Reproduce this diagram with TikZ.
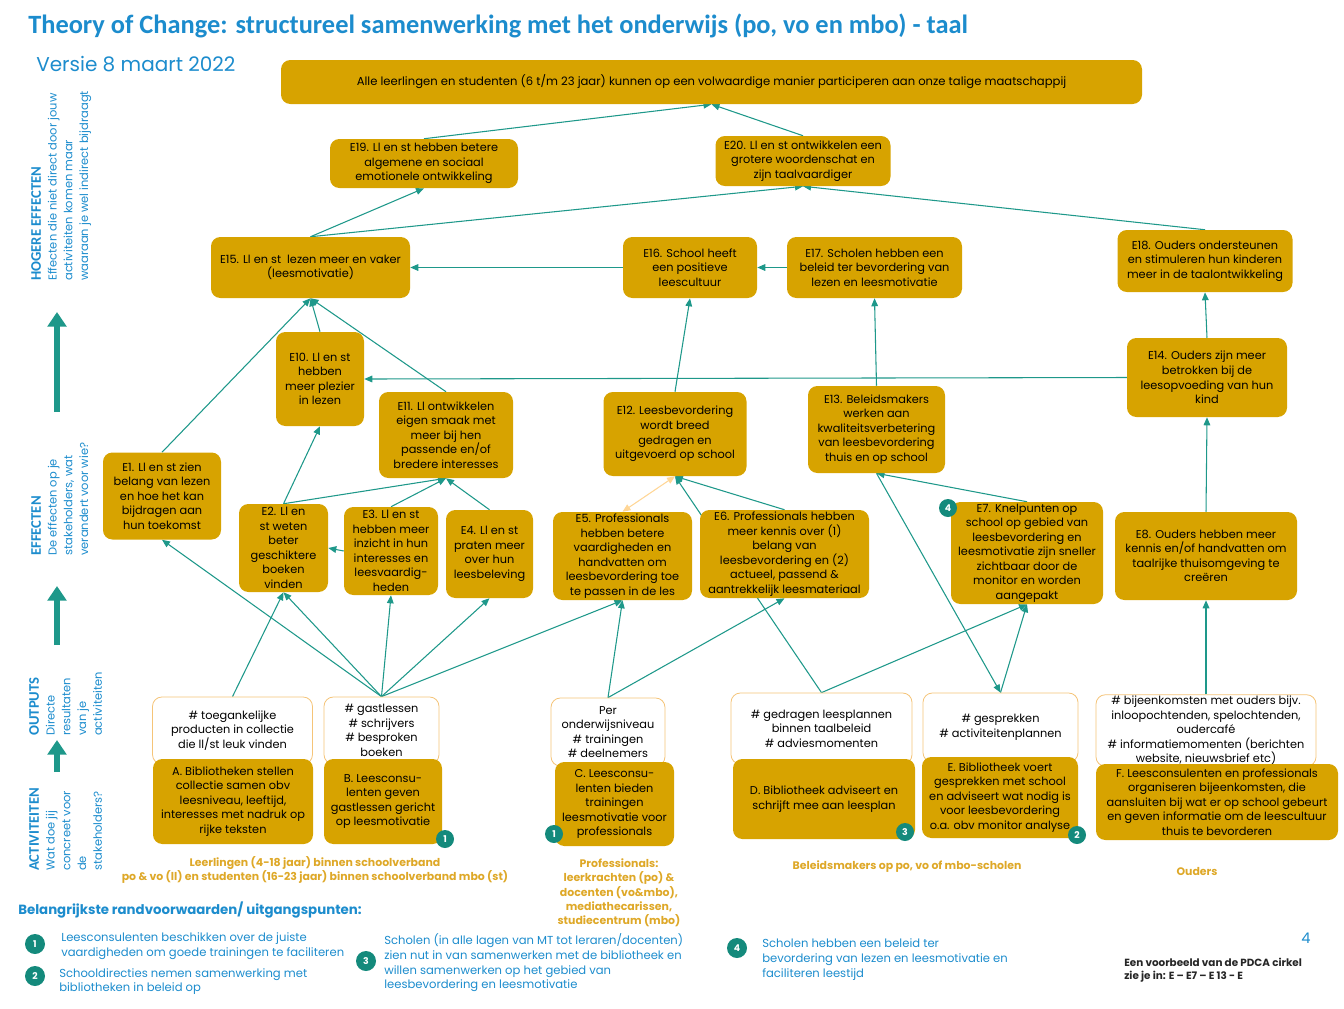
\documentclass[tikz,border=0pt]{standalone}
\usepackage{fontspec}
\setmainfont{Poppins}
\newfontfamily\titelfont{Carlito}
\usetikzlibrary{arrows.meta,backgrounds}
\definecolor{goud}{RGB}{215,163,0}
\definecolor{tocteal}{RGB}{30,152,138}
\definecolor{donkerteal}{RGB}{20,138,124}
\definecolor{tocblauw}{RGB}{28,140,205}
\definecolor{tocoranje}{RGB}{222,168,40}
\definecolor{randoranje}{RGB}{245,196,120}
\definecolor{lichtoranje}{RGB}{255,214,150}
\begin{document}
\begin{tikzpicture}[x=0.75pt,y=-0.75pt,
  effect/.style={fill=goud,rounded corners=7pt,align=center,inner sep=1pt,font=\fontsize{8.5}{10.9}\selectfont},
  output/.style={draw=randoranje,fill=white,line width=0.6pt,rounded corners=7pt,align=center,inner sep=1pt,font=\fontsize{8.5}{10.9}\selectfont},
  pijl/.style={draw=tocteal,line width=0.8pt,-{Triangle[length=6pt,width=5pt]}},
  nummer/.style={circle,fill=donkerteal,text=white,inner sep=0pt,minimum size=13.5pt,font=\bfseries\fontsize{7}{7}\selectfont},
  groep/.style={text=tocoranje,align=center,font=\bfseries\fontsize{8.2}{10.7}\selectfont},
  zij/.style={rotate=90,anchor=north west,align=left,text=tocblauw,inner sep=0pt,font=\fontsize{8.6}{11.8}\selectfont},
  punt/.style={anchor=west,align=left,text=tocblauw,inner sep=0pt,font=\fontsize{8.7}{11}\selectfont},
  groot/.style={draw=tocteal,line width=4.5pt,-{Triangle[length=11pt,width=14pt]}}]
\useasboundingbox (0,0) rectangle (1344,1008);

\node[anchor=west,text=tocblauw,inner sep=0pt,font=\titelfont\bfseries\fontsize{19.8}{22}\selectfont] (titel) at (28,26) {Theory of Change: structureel samenwerking met het onderwijs (po, vo en mbo) - taal};
\node[anchor=west,text=tocblauw,inner sep=0pt,font=\fontsize{15}{17}\selectfont] (versie) at (36,64) {Versie 8 maart 2022};

\node[zij] (hoger) at (31,281) {{\titelfont\bfseries\fontsize{11}{11.8}\selectfont HOGERE EFFECTEN}\\Effecten die niet direct door jouw\\activiteiten komen maar\\waaraan je wel indirect bijdraagt};
\node[zij] (effect) at (31,556) {{\titelfont\bfseries\fontsize{11}{11.8}\selectfont EFFECTEN}\\De effecten op je\\stakeholders, wat\\verandert voor wie?};
\node[zij] (outp) at (29,736) {{\titelfont\bfseries\fontsize{11}{11.8}\selectfont OUTPUTS}\\Directe\\resultaten\\van je\\activiteiten};
\node[zij] (activ) at (29,871) {{\titelfont\bfseries\fontsize{11}{11.8}\selectfont ACTIVITEITEN}\\Wat doe jij\\concreet voor\\de\\stakeholders?};
\coordinate (h1) at (57,412);
\coordinate (h2) at (57,312);
\coordinate (h3) at (57,645);
\coordinate (h4) at (57,586);
\coordinate (h5) at (57,772);
\coordinate (h6) at (57,740);
\draw[groot] (h1) -- (h2);
\draw[groot] (h3) -- (h4);
\draw[groot] (h5) -- (h6);

\node[effect,minimum width=645.75pt,minimum height=33pt,font=\fontsize{8.7}{10.9}\selectfont] (doel) at (711.5,82) {Alle leerlingen en studenten (6 t/m 23 jaar) kunnen op een volwaardige manier participeren aan onze talige maatschappij};
\node[effect,minimum width=141pt,minimum height=36.75pt] (E19) at (424,163.5) {E19. Ll en st hebben betere\\algemene en sociaal\\emotionele ontwikkeling};
\node[effect,minimum width=131.25pt,minimum height=37.5pt] (E20) at (803,161) {E20. Ll en st ontwikkelen een\\grotere woordenschat en\\zijn taalvaardiger};
\node[effect,minimum width=149.25pt,minimum height=45.75pt] (E15) at (310.5,267.5) {E15. Ll en st\ \ lezen meer en vaker\\(leesmotivatie)};
\node[effect,minimum width=100.5pt,minimum height=45.75pt] (E16) at (690,267.5) {E16. School heeft\\een positieve\\leescultuur};
\node[effect,minimum width=131.25pt,minimum height=45.75pt] (E17) at (874.5,267.5) {E17. Scholen hebben een\\beleid ter bevordering van\\lezen en leesmotivatie};
\node[effect,minimum width=131.25pt,minimum height=46.5pt] (E18) at (1205,261) {E18. Ouders ondersteunen\\en stimuleren hun kinderen\\meer in de taalontwikkeling};
\node[effect,minimum width=66pt,minimum height=70.5pt] (E10) at (320,379) {E10. Ll en st\\hebben\\meer plezier\\in lezen};
\node[effect,minimum width=100.5pt,minimum height=64.5pt] (E11) at (446,435) {E11. Ll ontwikkelen\\eigen smaak met\\meer bij hen\\passende en/of\\bredere interesses};
\node[effect,minimum width=107.25pt,minimum height=63pt] (E12) at (675,434) {E12. Leesbevordering\\wordt breed\\gedragen en\\uitgevoerd op school};
\node[effect,minimum width=102.75pt,minimum height=65.25pt] (E13) at (876.5,429.5) {E13. Beleidsmakers\\werken aan\\kwaliteitsverbetering\\van leesbevordering\\thuis en op school};
\node[effect,minimum width=120pt,minimum height=59.25pt] (E14) at (1207,377.5) {E14. Ouders zijn meer\\betrokken bij de\\leesopvoeding van hun\\kind};
\node[effect,minimum width=88.5pt,minimum height=65.25pt] (E1) at (162,496) {E1. Ll en st zien\\belang van lezen\\en hoe het kan\\bijdragen aan\\hun toekomst};
\node[effect,minimum width=66.75pt,minimum height=66pt] (E2) at (283.5,548) {E2. Ll en\\st weten\\beter\\geschiktere\\boeken\\vinden};
\node[effect,minimum width=70.5pt,minimum height=66pt] (E3) at (391,551) {E3. Ll en st\\hebben meer\\inzicht in hun\\interesses en\\leesvaardig-\\heden};
\node[effect,minimum width=65.25pt,minimum height=66pt] (E4) at (489.5,554) {E4. Ll en st\\praten meer\\over hun\\leesbeleving};
\node[effect,minimum width=104.25pt,minimum height=66pt] (E5) at (622.5,556) {E5. Professionals\\hebben betere\\vaardigheden en\\handvatten om\\leesbevordering toe\\te passen in de les};
\node[effect,minimum width=126.75pt,minimum height=66pt] (E6) at (784.5,554) {E6. Professionals hebben\\meer kennis over (1)\\belang van\\leesbevordering en (2)\\actueel, passend \&\\aantrekkelijk leesmateriaal};
\node[effect,minimum width=114pt,minimum height=76.5pt] (E7) at (1027,553) {E7. Knelpunten op\\school op gebied van\\leesbevordering en\\leesmotivatie zijn sneller\\zichtbaar door de\\monitor en worden\\aangepakt};
\node[effect,minimum width=136.5pt,minimum height=66pt] (E8) at (1206,556) {E8. Ouders hebben meer\\kennis en/of handvatten om\\taalrijke thuisomgeving te\\creëren};

\node[output,minimum width=120pt,minimum height=50.25pt] (oA) at (232.5,730.5) {\# toegankelijke\\producten in collectie\\die ll/st leuk vinden};
\node[output,minimum width=86.25pt,minimum height=50.25pt] (oB) at (381.5,730.5) {\# gastlessen\\\# schrijvers\\\# besproken\\boeken};
\node[output,minimum width=85.5pt,minimum height=51pt] (oC) at (608,732) {Per\\onderwijsniveau\\\# trainingen\\\# deelnemers};
\node[output,minimum width=135.75pt,minimum height=53.25pt] (oD) at (821.5,728.5) {\# gedragen leesplannen\\binnen taalbeleid\\\# adviesmomenten};
\node[output,minimum width=116.25pt,minimum height=51.75pt] (oE) at (1000.5,727.5) {\# gesprekken\\\# activiteitenplannen};
\node[output,minimum width=165pt,minimum height=53.25pt] (oF) at (1206,730.5) {\# bijeenkomsten met ouders bijv.\\inloopochtenden, spelochtenden,\\oudercafé\\\# informatiemomenten (berichten\\website, nieuwsbrief etc)};

\node[effect,minimum width=120pt,minimum height=63.75pt] (aA) at (233,801.5) {A. Bibliotheken stellen\\collectie samen obv\\leesniveau, leeftijd,\\interesses met nadruk op\\rijke teksten};
\node[effect,minimum width=88.5pt,minimum height=63.75pt] (aB) at (383,801.5) {B. Leesconsu-\\lenten geven\\gastlessen gericht\\op leesmotivatie};
\node[effect,minimum width=89.25pt,minimum height=63pt] (aC) at (614.5,804) {C. Leesconsu-\\lenten bieden\\trainingen\\leesmotivatie voor\\professionals};
\node[effect,minimum width=136.5pt,minimum height=60pt] (aD) at (824,799) {D. Bibliotheek adviseert en\\schrijft mee aan leesplan};
\node[effect,minimum width=117pt,minimum height=60.75pt] (aE) at (1000,797.5) {E. Bibliotheek voert\\gesprekken met school\\en adviseert wat nodig is\\voor leesbevordering\\o.a. obv monitor analyse};
\node[effect,minimum width=181.5pt,minimum height=57pt] (aF) at (1217,802) {F. Leesconsulenten en professionals\\organiseren bijeenkomsten, die\\aansluiten bij wat er op school gebeurt\\en geven informatie om de leescultuur\\thuis te bevorderen};

\node[nummer] (n1b) at (445,839) {1};
\node[nummer] (n1c) at (554,834) {1};
\node[nummer] (n3d) at (905,832) {3};
\node[nummer] (n2e) at (1077,835) {2};
\node[nummer] (n4e) at (948,508) {4};

\node[groep] (leerl) at (315,870) {Leerlingen (4-18 jaar) binnen schoolverband\\po \& vo (ll) en studenten (16-23 jaar) binnen schoolverband mbo (st)};
\node[groep] (prof) at (619,893) {Professionals:\\leerkrachten (po) \&\\docenten (vo\&mbo),\\mediathecarissen,\\studiecentrum (mbo)};
\node[groep] (beleid) at (907,867) {Beleidsmakers op po, vo of mbo-scholen};
\node[groep] (ouders) at (1197,871) {Ouders};

\node[anchor=west,text=tocblauw,inner sep=0pt,font=\bfseries\fontsize{10}{12}\selectfont] (rand) at (18,910) {Belangrijkste randvoorwaarden/ uitgangspunten:};
\node[nummer,minimum size=15pt] (r1) at (35,944) {1};
\node[punt] (p1) at (61,946) {Leesconsulenten beschikken over de juiste\\vaardigheden om goede trainingen te faciliteren};
\node[nummer,minimum size=15pt] (r2) at (35,976) {2};
\node[punt] (p2) at (59,981.5) {Schooldirecties nemen samenwerking met\\bibliotheken in beleid op};
\node[nummer,minimum size=15pt] (r3) at (366,961) {3};
\node[punt] (p3) at (384,963) {Scholen (in alle lagen van MT tot leraren/docenten)\\zien nut in van samenwerken met de bibliotheek en\\willen samenwerken op het gebied van\\leesbevordering en leesmotivatie};
\node[nummer,minimum size=15pt] (r4) at (737,948) {4};
\node[punt] (p4) at (762,959.5) {Scholen hebben een beleid ter\\bevordering van lezen en leesmotivatie en\\faciliteren leestijd};
\node[text=tocblauw,inner sep=0pt,font=\fontsize{11}{12}\selectfont] (pagina) at (1306,938) {4};
\node[anchor=west,align=left,inner sep=0pt,text=black!85,font=\bfseries\fontsize{7.8}{9.8}\selectfont] (pdca) at (1124,970) {Een voorbeeld van de PDCA cirkel\\zie je in: E – E7 – E 13 - E};

\begin{scope}[on background layer]
\draw[pijl] (E19.north) -- (doel.south);
\draw[pijl] (E20.north) -- (doel.south);
\draw[pijl] (E15.north) -- (E19.south);
\draw[pijl] (E15.north) -- (E20.south);
\draw[pijl] (E18.north) -- (E20.south);
\draw[pijl] (E16.west) -- (E15.east);
\draw[pijl] (E17.west) -- (E16.east);
\draw[pijl] (E10.north) -- (E15.south);
\draw[pijl] (E11.north) -- (E15.south);
\draw[pijl] (E1.north) -- (E15.south);
\draw[pijl] (E14.west) -- (E10.east);
\draw[pijl] (E12.north) -- (E16.south);
\draw[pijl] (E13.north) -- (E17.south);
\draw[pijl] (E14.north) -- (E18.south);
\draw[pijl] (E2.north) -- (E10.south);
\draw[pijl] (E2.north) -- (E11.south);
\draw[pijl] (E3.north) -- (E11.south);
\draw[pijl] (E4.north) -- (E11.south);
\draw[pijl] (E3.west) -- (E2.east);
\draw[pijl] (E6.north) -- (E12.south);
\draw[lichtoranje,line width=0.8pt,{Triangle[length=6pt,width=5pt]}-{Triangle[length=6pt,width=5pt]}] (E5.north) -- (E12.south);
\draw[pijl] (E7.north) -- (E13.south);
\draw[pijl] (E13.south) -- (oE.north);
\draw[pijl] (E8.north) -- (E14.south);
\draw[pijl] (oA.north) -- (E2.south);
\draw[pijl] (oB.north) -- (E1.south);
\draw[pijl] (oB.north) -- (E2.south);
\draw[pijl] (oB.north) -- (E3.south);
\draw[pijl] (oB.north) -- (E4.south);
\draw[pijl] (oB.north) -- (E5.south);
\draw[pijl] (oC.north) -- (E5.south);
\draw[pijl] (oC.north) -- (E6.south);
\draw[pijl] (oD.north) -- (E12.south);
\draw[pijl] (oD.north) -- (E7.south);
\draw[pijl] (oE.north) -- (E7.south);
\draw[pijl] (oF.north) -- (E8.south);
\end{scope}
\end{tikzpicture}
\end{document}
